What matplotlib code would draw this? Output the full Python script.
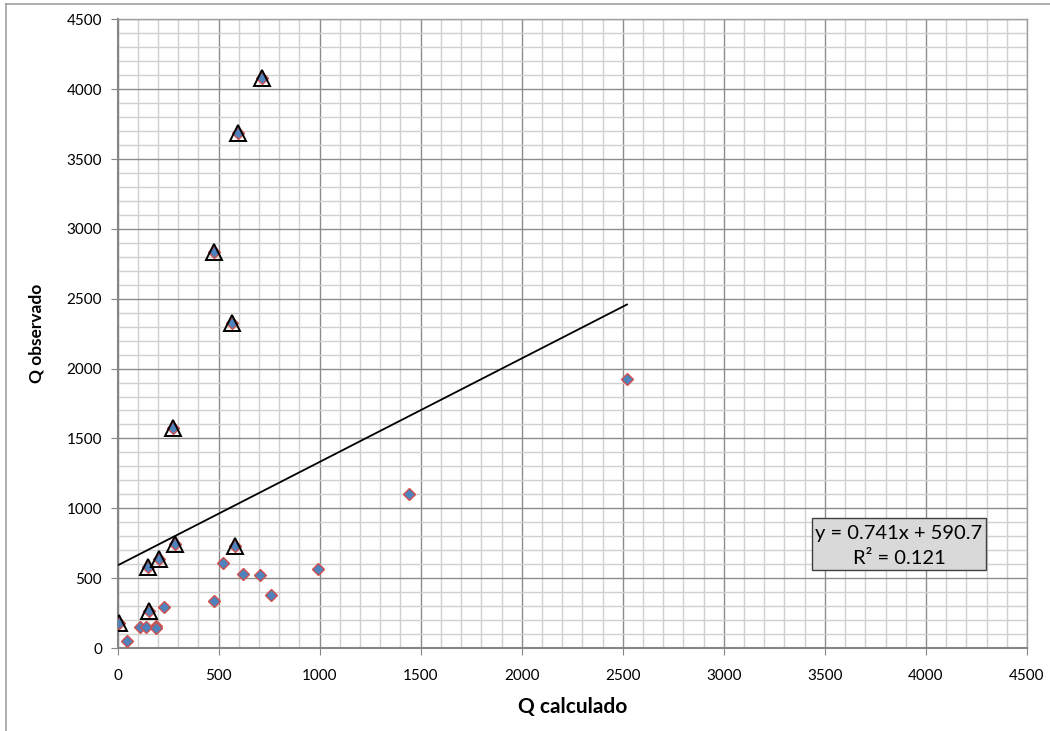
import matplotlib
matplotlib.use("Agg")
import matplotlib.pyplot as plt
from matplotlib.ticker import MultipleLocator
from matplotlib.lines import Line2D
from matplotlib.patches import Rectangle

# ---- data ----
# points marked with a triangle (also drawn as diamonds)
q_calc_tri = [716, 596, 479, 566, 276, 283, 581, 205, 152, 157, 7]
q_obs_tri = [4078, 3684, 2837, 2324, 1572, 744, 732, 637, 580, 267, 177]
# remaining points (diamonds only)
q_calc_rest = [520, 619, 703, 990, 758, 477, 230, 113, 139, 189, 189, 47, 1440, 2521]
q_obs_rest = [611, 527, 522, 565, 379, 336, 296, 153, 153, 160, 141, 50, 1102, 1928]

q_calc_all = q_calc_tri + q_calc_rest
q_obs_all = q_obs_tri + q_obs_rest

slope = 0.741
intercept = 590.7
r2 = 0.121

x_ticks = list(range(0, 4501, 500))
y_ticks = list(range(0, 4501, 500))

plt.rcParams['font.family'] = ['Lato', 'DejaVu Sans']

fig = plt.figure(figsize=(10.5, 7.31), dpi=100)
ax = fig.add_axes([117.5 / 1050, 1 - 648 / 731, (1027 - 117.5) / 1050, (648 - 19.3) / 731])

ax.set_xlim(0, 4500)
ax.set_ylim(0, 4500)
ax.set_xticks(x_ticks)
ax.set_yticks(y_ticks)
ax.xaxis.set_minor_locator(MultipleLocator(100))
ax.yaxis.set_minor_locator(MultipleLocator(100))
ax.grid(which='major', color='#8c8c8c', linewidth=1.0, zorder=0)
ax.grid(which='minor', color='#d0d0d0', linewidth=1.0, zorder=0)
ax.set_axisbelow(True)
ax.tick_params(which='minor', length=0)
ax.tick_params(which='major', direction='out', length=5, color='#868686',
               labelsize=11, labelcolor='black', pad=6)
ax.tick_params(axis='x', pad=10)

for s in ['left', 'bottom']:
    ax.spines[s].set_color('#868686')
    ax.spines[s].set_linewidth(1.5)
for s in ['top', 'right']:
    ax.spines[s].set_color('#a0a0a0')
    ax.spines[s].set_linewidth(1.0)

# regression line
xmin, xmax = min(q_calc_all), max(q_calc_all)
ax.plot([xmin, xmax], [slope * xmin + intercept, slope * xmax + intercept],
        color='black', linewidth=1.3, zorder=3)

# diamonds
ax.plot(q_calc_all, q_obs_all, linestyle='none', marker='D', markersize=6.5,
        markerfacecolor='#4F81BD', markeredgecolor='#D0504D', markeredgewidth=1.0, zorder=4)
# triangles
ax.plot(q_calc_tri, q_obs_tri, linestyle='none', marker='^', markersize=12,
        markerfacecolor='none', markeredgecolor='black', markeredgewidth=1.4, zorder=5)

ax.set_xlabel('Q calculado', fontsize=15, fontweight='bold', labelpad=10)
ax.set_ylabel('Q observado', fontsize=12.5, fontweight='bold', labelpad=16)

# equation box
box = Rectangle((812 / 1050, 1 - 570 / 731), (985.7 - 812) / 1050, (570 - 518.3) / 731,
                transform=fig.transFigure, facecolor='#D9D9D9', edgecolor='#404040',
                linewidth=1.0, zorder=10)
fig.patches.append(box)
fig.text(899 / 1050, 1 - 534 / 731, f'y = {slope}x + {intercept}', ha='center', va='center',
         fontsize=14.5, zorder=11)
fig.text(899 / 1050, 1 - 558 / 731, f'R² = {r2}', ha='center', va='center',
         fontsize=14.5, zorder=11)

# outer chart border
fig.add_artist(Line2D([5.5 / 1050, 1], [1 - 4 / 731, 1 - 4 / 731], transform=fig.transFigure,
                      color='#a0a0a0', linewidth=1.2))
fig.add_artist(Line2D([5.5 / 1050, 5.5 / 1050], [0, 1 - 4 / 731], transform=fig.transFigure,
                      color='#a0a0a0', linewidth=1.2))

fig.savefig('out.png', dpi=100)
